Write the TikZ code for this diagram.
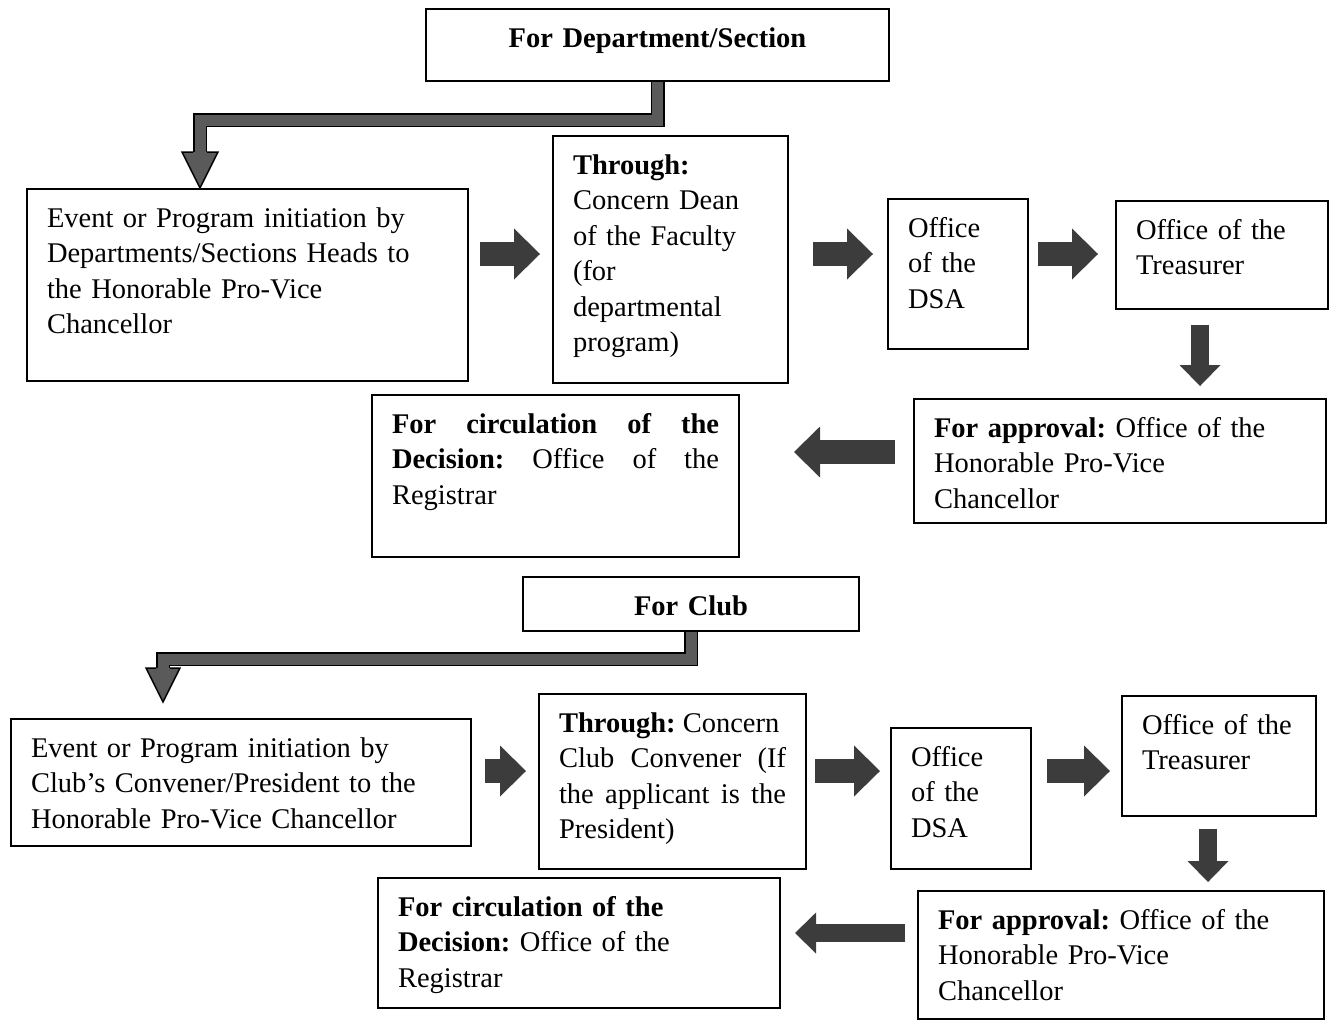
\documentclass[tikz,border=0pt]{standalone}
\usepackage{fontspec}
\setmainfont{Liberation Serif}
\usetikzlibrary{calc,arrows.meta}
\hyphenpenalty=10000
\frenchspacing
\definecolor{blockgray}{HTML}{3C3C3C}
\definecolor{elbowgray}{HTML}{5A5A5A}

\begin{document}
\begin{tikzpicture}[x=.4pt, y=-.4pt, line width=.8pt,
    box/.style={draw, anchor=north west, inner xsep=8pt, inner ysep=6pt,
      text height=9.2pt, align=left, font=\fontsize{11.4}{14.2}\selectfont},
    sz/.style 2 args={text width=#1, text depth=#2},
    bigblock/.style={draw=blockgray, line width=9.4pt,
      -{Triangle[length=10.4pt, width=20.4pt, line width=0pt]}},
    smallblock/.style={draw=blockgray, line width=7.2pt,
      -{Triangle[length=8.4pt, width=16.4pt, line width=0pt]}},
    elbowline/.style={draw=black, line width=.6pt, double=elbowgray, double distance=4.4pt},
    elbowhead/.style={draw=black, line width=.6pt, fill=elbowgray}]
    \useasboundingbox (0,0) rectangle (1330,1020);

    % department / section
    \node[box, sz={169.2pt}{7.6pt}, align=center] (dept) at (425,8) {\textbf{For Department/Section}};
    \node[box, sz={160.4pt}{55.6pt}] (a1) at (26,188) {Event or Program initiation by\\Departments/Sections Heads to\\the Honorable Pro-Vice\\Chancellor};
    \node[box, sz={78pt}{77.6pt}] (a2) at (552,135) {\textbf{Through:}\\Concern Dean\\of the Faculty\\(for\\departmental\\program)};
    \node[box, sz={40pt}{38.8pt}] (a3) at (887,198) {Office\\of the\\DSA};
    \node[box, sz={68.8pt}{22pt}] (a4) at (1115,200) {Office of the\\Treasurer};
    \node[box, sz={148.8pt}{28.4pt}] (a5) at (913,398) {\textbf{For approval:} Office of the\\Honorable Pro-Vice\\Chancellor};
    \node[box, sz={130.8pt}{43.6pt}, align=justify] (a6) at (371,394) {\textbf{For circulation of the Decision:} Office of the Registrar};

    % club
    \node[box, sz={118.4pt}{0.4pt}, align=center] (club) at (522,576) {\textbf{For Club}};
    \node[box, sz={168pt}{29.6pt}] (b1) at (10,718) {Event or Program initiation by\\Club's Convener/President to the\\Honorable Pro-Vice Chancellor};
    \node[box, sz={90.8pt}{48.8pt}, align=justify] (b2) at (538,693) {\mbox{\textbf{Through:} Concern}\linebreak Club Convener (If\linebreak the applicant is the\linebreak President)};
    \node[box, sz={40pt}{35.2pt}] (b3) at (890,727) {Office\\of the\\DSA};
    \node[box, sz={61.6pt}{26.8pt}] (b4) at (1121,695) {\mbox{Office of the}\\Treasurer};
    \node[box, sz={146.4pt}{30pt}] (b5) at (917,890) {\textbf{For approval:} Office of the\\Honorable Pro-Vice\\Chancellor};
    \node[box, sz={144.8pt}{30.8pt}] (b6) at (377,877) {\textbf{For circulation of the}\\\textbf{Decision:} Office of the\\Registrar};

    \coordinate (rowA) at (0,254);
    \coordinate (rowB) at (0,771);
    \coordinate (rowC) at (0,452);
    \coordinate (rowD) at (0,933);
    \coordinate (colA) at (1200,0);
    \coordinate (colB) at (1208,0);
    \coordinate (t1) at ([xshift=69.6pt]a1.north west);
    \coordinate (t2) at ([shift={(153,-16)}]b1.north west);

    % bent arrows
    \draw[elbowline] (dept.south) -- ++(0,38) -| ($(t1)+(0,-36)$);
    \filldraw[elbowhead] ($(t1)+(-7,-36)$) -- ++(-11,0) -- (t1) -- ++(18,-36) -- ++(-11,0);
    \draw[elbowline] (club.south) -- ++(0,27) -| ($(t2)+(0,-34)$);
    \filldraw[elbowhead] ($(t2)+(-7,-34)$) -- ++(-10,0) -- (t2) -- ++(17,-34) -- ++(-10,0);

    % block arrows
    \draw[bigblock, shorten <=4.4pt, shorten >=4.8pt] (a1.east |- rowA) -- (a2.west |- rowA);
    \draw[bigblock, shorten <=9.6pt, shorten >=5.6pt] (a2.east |- rowA) -- (a3.west |- rowA);
    \draw[bigblock, shorten <=3.6pt, shorten >=6.8pt] (a3.east |- rowA) -- (a4.west |- rowA);
    \draw[smallblock, shorten <=6pt, shorten >=4.8pt] (colA |- a4.south) -- (colA |- a5.north);
    \draw[bigblock, shorten <=7.2pt, shorten >=21.6pt] (a5.west |- rowC) -- (a6.east |- rowC);

    \draw[bigblock, shorten <=5.2pt, shorten >=4.8pt] (b1.east |- rowB) -- (b2.west |- rowB);
    \draw[bigblock, shorten <=3.2pt, shorten >=4pt] (b2.east |- rowB) -- (b3.west |- rowB);
    \draw[bigblock, shorten <=6pt, shorten >=4.4pt] (b3.east |- rowB) -- (b4.west |- rowB);
    \draw[smallblock, shorten <=4.8pt, shorten >=3.2pt] (colB |- b4.south) -- (colB |- b5.north);
    \draw[smallblock, shorten <=4.8pt, shorten >=5.6pt] (b5.west |- rowD) -- (b6.east |- rowD);
\end{tikzpicture}
\end{document}
